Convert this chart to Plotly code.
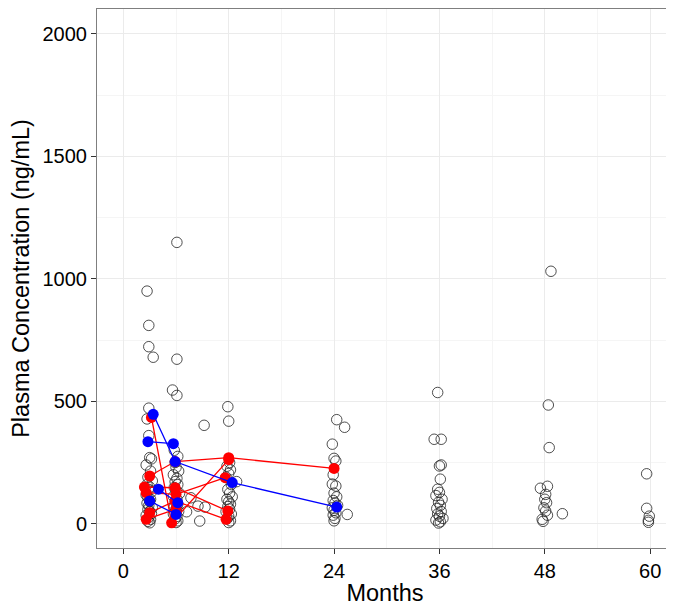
import plotly.graph_objects as go

# all observed concentrations (open circles), grouped by visit
month_3 = [2.7, 2.9, 2.9, 3.4, 2.9, 2.7, 2.9, 3.0, 3.2, 2.6, 3.1, 2.8, 3.3, 2.7, 3.0, 2.9,
           3.2, 2.6, 2.8, 3.1, 3.0, 2.7, 2.9, 3.3, 2.8, 3.0, 3.2, 2.6, 2.9, 3.1, 2.8, 3.0]
conc_3 = [950, 810, 723, 680, 472, 428, 360, 270, 265, 240, 215, 190, 175, 160, 150, 140,
          130, 118, 108, 100, 92, 84, 75, 66, 58, 50, 42, 34, 26, 18, 10, 4]

month_6 = [6.1, 6.1, 5.6, 6.1, 5.8, 6.2, 5.9, 6.0, 6.3, 5.7, 6.1, 5.9, 6.2, 5.8, 6.0, 6.4,
           5.7, 6.1, 5.9, 6.2, 5.8, 6.0, 6.3, 5.7, 6.1, 5.9, 6.2, 6.0]
conc_6 = [1149, 672, 546, 524, 300, 275, 250, 230, 215, 200, 185, 172, 160, 148, 136, 124,
          112, 100, 90, 80, 70, 60, 50, 40, 30, 20, 12, 5]

month_mid = [7.2, 7.7, 8.5, 9.3, 8.7, 9.2]
conc_mid = [49, 106, 72, 68, 11, 402]

month_12 = [11.9, 12.0, 12.9, 12.1, 11.8, 12.2, 12.0, 11.7, 12.3, 11.9, 12.1, 12.4, 11.8,
            12.0, 12.2, 11.9, 12.1, 11.7, 12.3, 12.0, 11.8, 12.2, 12.0]
conc_12 = [478, 419, 172, 250, 235, 220, 205, 190, 160, 140, 125, 110, 100, 90, 80, 70, 60,
           50, 40, 30, 20, 12, 5]

month_24 = [24.3, 25.2, 23.8, 24.0, 24.2, 23.9, 23.8, 24.2, 24.0, 24.3, 23.9, 24.1, 24.4,
            23.8, 24.0, 24.2, 23.9, 24.1, 25.5, 24.0]
conc_24 = [425, 394, 325, 267, 256, 200, 162, 154, 125, 110, 95, 85, 75, 65, 55, 45, 35, 22,
           38, 12]

month_36 = [35.8, 35.4, 36.2, 36.0, 36.2, 36.1, 35.8, 36.0, 35.6, 36.3, 35.9, 36.1, 35.7,
            36.2, 35.8, 36.0, 36.4, 35.6, 36.1, 35.9]
conc_36 = [536, 345, 345, 236, 240, 182, 141, 128, 115, 100, 88, 75, 62, 50, 40, 31, 22, 15,
           8, 3]

month_48 = [48.7, 48.4, 48.5, 47.5, 48.3, 48.1, 48.2, 47.9, 48.1, 47.7, 48.0, 50.0, 48.3, 47.8]
conc_48 = [1031, 485, 311, 145, 153, 120, 86, 65, 52, 18, 100, 41, 35, 10]

month_60 = [59.6, 59.6, 59.9, 59.8, 59.8]
conc_60 = [204, 63, 31, 14, 6]

# highlighted subjects
red_months = [
    [3.0, 5.9, 12.0, 24.0],
    [3.2, 5.5, 12.0],
    [2.4, 5.9, 11.9],
    [2.6, 6.0, 11.6],
    [3.0, 5.9, 11.7],
    [2.6, 6.0],
]
red_conc = [
    [195, 254, 270, 226],
    [434, 4, 262],
    [150, 147, 52],
    [127, 120, 188],
    [45, 93, 18],
    [18, 60],
]

blue_months = [
    [3.4, 5.9, 12.4, 24.3],
    [2.8, 5.7],
    [4.0, 6.2],
    [3.0, 6.0],
]
blue_conc = [
    [447, 254, 168, 68],
    [335, 327],
    [141, 86],
    [93, 38],
]

all_months = month_3 + month_6 + month_mid + month_12 + month_24 + month_36 + month_48 + month_60
all_conc = conc_3 + conc_6 + conc_mid + conc_12 + conc_24 + conc_36 + conc_48 + conc_60

fig = go.Figure()

fig.add_trace(go.Scatter(
    x=all_months, y=all_conc, mode='markers', showlegend=False,
    marker=dict(size=10.5, color='rgba(0,0,0,0)', line=dict(width=0.8, color='#222222'))
))

for xs, ys in zip(red_months, red_conc):
    fig.add_trace(go.Scatter(
        x=xs, y=ys, mode='lines+markers', showlegend=False,
        line=dict(color='red', width=1.3),
        marker=dict(size=11, color='red')
    ))

for xs, ys in zip(blue_months, blue_conc):
    fig.add_trace(go.Scatter(
        x=xs, y=ys, mode='lines+markers', showlegend=False,
        line=dict(color='blue', width=1.3),
        marker=dict(size=11, color='blue')
    ))

axis_font = dict(family='Liberation Sans, Arial', size=20, color='black')

# the page puts the figure 8px in from the top-left, so margins are set to land
# the plot frame where the reference has it
fig.update_layout(
    width=674, height=606,
    margin=dict(l=89, r=9, t=1, b=66),
    plot_bgcolor='white',
    paper_bgcolor='white',
    font=dict(family='Liberation Sans, Arial', color='black'),
    xaxis=dict(
        title=dict(text='Months', font=dict(size=23.5), standoff=3),
        range=[-3.0, 62.6],
        tickvals=[0, 12, 24, 36, 48, 60],
        tickfont=axis_font,
        ticks='outside', ticklen=5, tickcolor='#333333',
        showgrid=True, gridcolor='#ebebeb', gridwidth=1,
        minor=dict(dtick=6, tick0=0, showgrid=True, gridcolor='#f5f5f5', gridwidth=1),
        showline=True, mirror=True, linecolor='#7f7f7f', linewidth=1,
        zeroline=False,
    ),
    yaxis=dict(
        title=dict(text='Plasma Concentration (ng/mL)', font=dict(size=23.5), standoff=10),
        range=[-99, 2102],
        tickvals=[0, 500, 1000, 1500, 2000],
        tickfont=axis_font,
        ticks='outside', ticklen=5, tickcolor='#333333',
        showgrid=True, gridcolor='#ebebeb', gridwidth=1,
        minor=dict(dtick=250, tick0=0, showgrid=True, gridcolor='#f5f5f5', gridwidth=1),
        showline=True, mirror=True, linecolor='#7f7f7f', linewidth=1,
        zeroline=False,
    ),
)

fig.write_html("out.html")
